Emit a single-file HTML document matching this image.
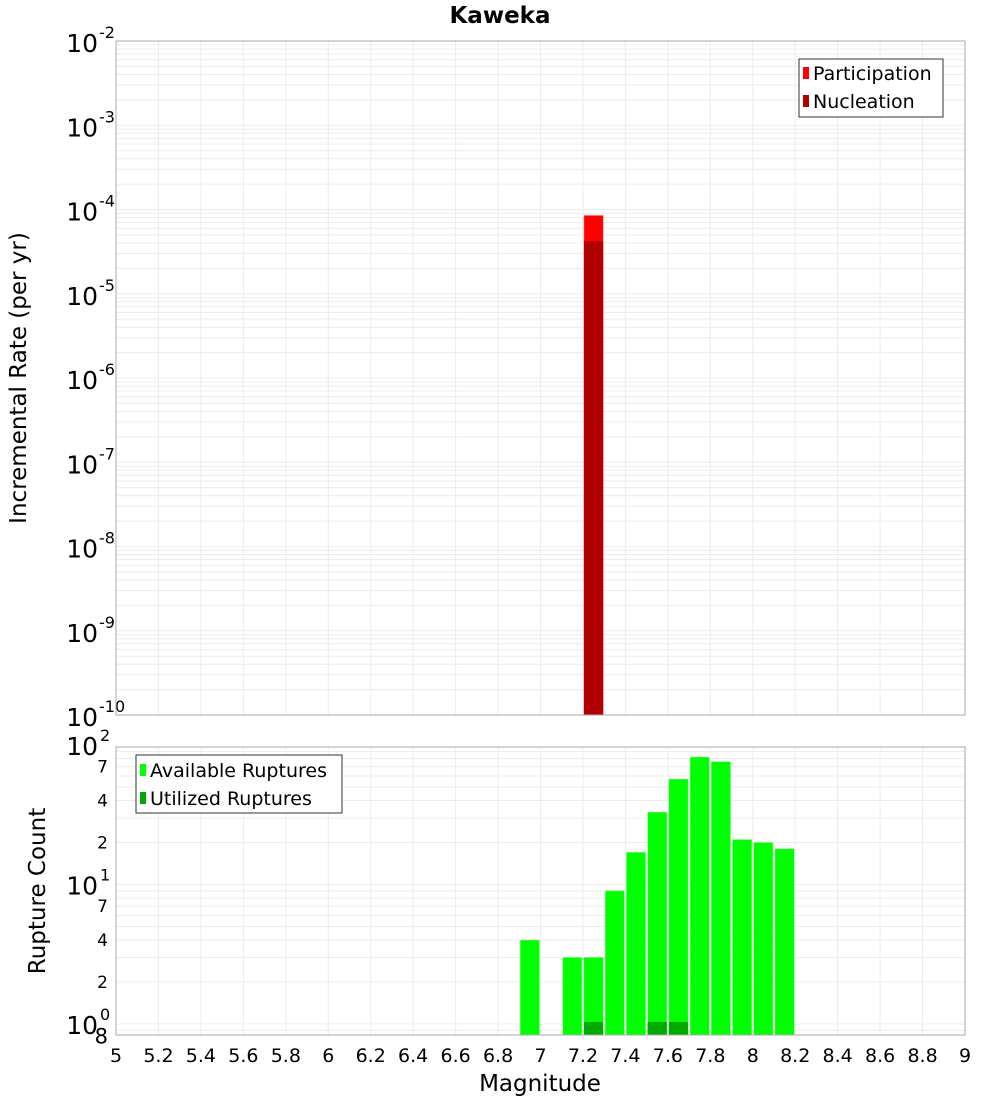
<!DOCTYPE html>
<html><head><meta charset="utf-8"><style>
html,body{margin:0;padding:0;background:#fff;}
svg{display:block;font-family:"Liberation Sans","DejaVu Sans",sans-serif;}
</style></head><body>
<svg id="chart" width="1000" height="1100" xmlns="http://www.w3.org/2000/svg">
<text x="500" y="23" text-anchor="middle" font-size="23" font-weight="bold" font-family="DejaVu Sans, sans-serif">Kaweka</text>
<text transform="translate(26,378) rotate(-90)" text-anchor="middle" font-size="23" font-family="DejaVu Sans, sans-serif">Incremental Rate (per yr)</text>
<text transform="translate(45,891) rotate(-90)" text-anchor="middle" font-size="23" font-family="DejaVu Sans, sans-serif">Rupture Count</text>
<text x="540" y="1091" text-anchor="middle" font-size="23" font-family="DejaVu Sans, sans-serif">Magnitude</text>
<g id="g"></g>
</svg>
<script>
const rateBins=[7.25];
const participation=[8.5e-5];
const nucleation=[4.2e-5];
const countBins=[6.95,7.15,7.25,7.35,7.45,7.55,7.65,7.75,7.85,7.95,8.05,8.15];
const available=[4,3,3,9,17,33,57,82,76,21,20,18];
const utilBins=[7.25,7.55,7.65];
const utilized=[1,1,1];
const xTicks=["5","5.2","5.4","5.6","5.8","6","6.2","6.4","6.6","6.8","7","7.2","7.4","7.6","7.8","8","8.2","8.4","8.6","8.8","9"];
const topExps=[-2,-3,-4,-5,-6,-7,-8,-9,-10];

const NS="http://www.w3.org/2000/svg";
const g=document.getElementById('g');
function el(t,a,txt){const e=document.createElementNS(NS,t);for(const k in a)e.setAttribute(k,a[k]);if(txt!==undefined)e.textContent=txt;g.appendChild(e);return e;}
const L=116,R=965,T1=41,B1=715,T2=747,B2=1035;
const x=m=>L+(m-5)*(R-L)/4;
const yTop=v=>T1+(-2-Math.log10(v))*(B1-T1)/8;
const D2=139.5,Z2=1024;
const yBot=v=>Math.max(T2,Z2-Math.log10(v)*D2);

let r=el('rect',{x:L,y:T1,width:R-L,height:B1-T1,fill:'#fff',stroke:'none'});

for(let e=-10;e<-2;e++){for(let k=1;k<10;k++){const yy=yTop(k*Math.pow(10,e));
 const l=el('line',{x1:L,x2:R,y1:yy,y2:yy,stroke:'#ececec','stroke-width':1});
 }}
for(let i=0;i<xTicks.length;i++){const xx=x(+xTicks[i]);
 let l=el('line',{x1:xx,x2:xx,y1:T1,y2:B1,stroke:'#ececec'});
 l=el('line',{x1:xx,x2:xx,y1:T2,y2:B2,stroke:'#ececec'});
 const t=el('text',{x:xx,y:1062,'text-anchor':'middle','font-size':19,'font-family':'DejaVu Sans, sans-serif'},xTicks[i]);
 }
topExps.forEach(e=>{const yy=yTop(Math.pow(10,e));
 const t=el('text',{x:98,y:yy+11,'text-anchor':'end','font-size':25,'font-family':'DejaVu Sans, sans-serif'},'10');
 
 const s=el('text',{x:99,y:yy-3,'font-size':16,'font-family':'DejaVu Sans, sans-serif'},String(e));
 });
const w=(R-L)/40;
rateBins.forEach((m,i)=>{
 let b=el('rect',{x:x(m)-w/2+1,y:yTop(participation[i]),width:w-2,height:B1-yTop(participation[i]),fill:'#ff0000',stroke:'#ff8080','stroke-width':0.5});
 
 b=el('rect',{x:x(m)-w/2+1,y:yTop(nucleation[i]),width:w-2,height:B1-yTop(nucleation[i]),fill:'#b00000'});
 });
r=el('rect',{x:L,y:T1,width:R-L,height:B1-T1,fill:'none',stroke:'#aaa'});
r=el('rect',{x:799,y:59,width:144,height:58,fill:'#fff',stroke:'#333'});
[['Participation','#ff0000',73],['Nucleation','#b00000',101]].forEach(([n,c,yy])=>{
 const s=el('rect',{x:803,y:yy-6,width:6,height:12,fill:c});
 const t=el('text',{x:813,y:yy+7,'font-size':19,'font-family':'DejaVu Sans, sans-serif'},n);});

for(let e=-1;e<2;e++){for(let k=1;k<10;k++){const v=k*Math.pow(10,e);const yy=Z2-Math.log10(v)*D2;if(yy<T2||yy>B2)continue;
 const l=el('line',{x1:L,x2:R,y1:yy,y2:yy,stroke:'#ececec'});}}
[[2,'2'],[1,'1'],[0,'0']].forEach(([e,s])=>{const yy=Z2-e*D2;
 const t=el('text',{x:98,y:yy+10,'text-anchor':'end','font-size':25,'font-family':'DejaVu Sans, sans-serif'},'10');
 const u=el('text',{x:100,y:yy-4,'font-size':16,'font-family':'DejaVu Sans, sans-serif'},s);});
[[70,'7'],[40,'4'],[20,'2'],[7,'7'],[4,'4'],[2,'2'],[0.8,'8']].forEach(([v,s])=>{const yy=Z2-Math.log10(v)*D2;
 const t=el('text',{x:108,y:yy+6,'text-anchor':'end','font-size':v<1?21:17,'font-family':'DejaVu Sans, sans-serif'},s);});
countBins.forEach((m,i)=>{const yy=yBot(available[i]);
 const b=el('rect',{x:x(m)-w/2+1,y:yy,width:w-2,height:B2-yy,fill:'#00ff00',stroke:'#80ff80','stroke-width':0.5});
 });
utilBins.forEach((m,i)=>{const yy=yBot(utilized[i])-2;
 const b=el('rect',{x:x(m)-w/2+1,y:yy,width:w-2,height:B2-yy,fill:'#00aa00'});
 });
r=el('rect',{x:L,y:T2,width:R-L,height:B2-T2,fill:'none',stroke:'#aaa'});
r=el('rect',{x:136,y:755,width:206,height:58,fill:'#fff',stroke:'#333'});
[['Available Ruptures','#00ff00',770],['Utilized Ruptures','#00aa00',798]].forEach(([n,c,yy])=>{
 const s=el('rect',{x:140,y:yy-6,width:6,height:12,fill:c});
 const t=el('text',{x:150,y:yy+7,'font-size':19,'font-family':'DejaVu Sans, sans-serif'},n);});
</script>
</body></html>
